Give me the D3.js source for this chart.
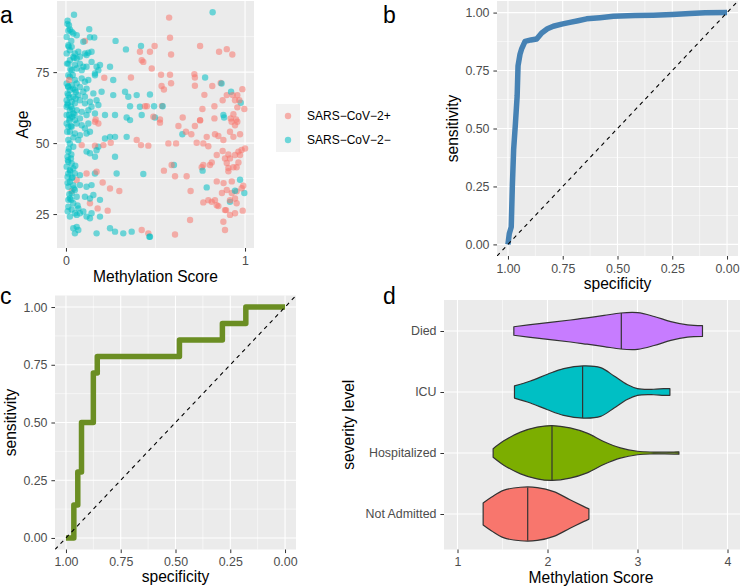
<!DOCTYPE html>
<html><head><meta charset="utf-8">
<script src="https://cdn.jsdelivr.net/npm/d3@7"></script>
<style>
body{margin:0;background:#fff}
svg text{font-family:"Liberation Sans",Arial,Helvetica,sans-serif}
</style>
</head><body>
<svg id="chart" width="740" height="588"></svg>
<script>
// ---------------- DATA ----------------
// Panel a: SARS-CoV-2+ (red) points
const posScore = [.576,.581,.587,.495,.469,.479,.749,.855,.898,.929,.531,.581,.587,.534,.547,.717,.72,.72,.773,.817,.864,.875,.898,.931,.957,.985,.944,.968,.996,.762,.829,.957,.935,.95,.92,.488,.525,.652,.749,.829,
 .106,.017,.214,.363,.413,.423,.432,.441,.452,.536,.166,
 .162,.181,.088,.162,.209,.25,.395,.419,.46,.115,.171,.06,.205,.246,.298,.032,.134,.177,.233,.423,.46,
 .525,.628,.67,.7,.72,.749,.786,.832,.851,.879,.916,.935,.972,.944,.957,.925,.572,.615,.73,.767,.795,.875,.907,.916,.944,.963,.972,.981,.963,.935,.953,.898,.907,.888,.842,.814,.804,.767,.758,.59,.547,.609,.674,.907,.926,.898,.871,.926,.953,.981,.944,.953,.916,.842,.88,.832,.842,.814,.795,.767,.851,.894,.944,.987,.916,.696,.693,.879,.888,.609,.888,1.0,.99];
const posAge = [94.2,87.1,81.2,84.2,82.2,76.3,84.2,82.2,83.1,81.2,74.1,74.1,71.1,70.1,68.9,74.3,73.1,70.2,67,70.1,71.2,65.1,66.9,66.9,66.9,69,65.1,65.1,62,62,63,62.6,60.2,58.3,58.7,59.3,58.3,59,58.1,58.7,
 86,72.2,73,73.1,82.2,79.2,78.6,63,63,63.1,58.3,
 57.5,56.9,49.3,49.1,49.3,50.1,51.1,49.3,49.1,39.3,39.9,37,36.1,34,33.1,33.1,28.8,27,26.2,19.4,18.2,
 57.2,56,54,53.1,56,58,52.2,53.1,52.5,51.1,54,52.2,53.1,56.3,57.5,57.5,49.9,49.9,50.1,49.9,48.9,47.2,46,44.6,45.8,47,45.8,47.6,43.2,41.5,41.5,43,41.2,44.6,45.8,43.2,42.3,42.3,41.5,42.3,40.3,38.3,38.3,40.1,36.5,33.5,32.4,32.4,33,34.1,30.5,28.8,29.9,36.5,35.9,29.9,28.1,29.3,29.9,29.1,27.8,26.4,25.3,26.2,24.7,33.1,22.9,22.3,19.4,17.8,26.4,48.1,35];
// Panel a: SARS-CoV-2- (blue) points
const negScore = [.819,.777,.869,.922,.976,.492,.54,.469,.879,.883,.497,
 .65,.603,.763,.786,.944,.972,.996,.916,.469,
 .277,.335,.419,.264,.246,.19,.33,.348,.395,.358,.413,.423,.339,.274,.218,.358,.264,.199,
 .218,.246,.274,.339,.171,.181,.274,.283,.432,.19,.246,.274,.32,.367,.171,.466,
 .045,.009,.017,.022,.032,.013,.041,.06,.004,.13,.158,.134,.097,.013,.032,.022,.05,.069,.041,.004,.022,.06,.078,.106,.125,.143,.115,.013,.05,.078,.097,.115,.06,.088,.032,.143,.171,.181,.162,.162,.125,.106,.088,.05,.022,.013,.004,.032,.06,.078,.115,.097,.05,.022,.013,.041,.069,.106,.153,.004,.032,.05,.078,.106,.134,.171,.143,.181,.004,.022,.041,.06,.088,.115,.078,.05,.022,.004,.162,.125,.009,.028,.017,.035,.013,.041,.009,.054,
 .004,.032,.06,.088,.125,.106,.022,.05,.078,.115,.134,.022,.041,.013,.115,.134,.162,.013,.032,.004,.022,.041,.013,.05,.078,.162,.022,.013,.041,.078,.115,.143,.05,.032,.022,.06,.106,.134,.153,.041,.013,.069,.097,.115,.134,.143,.06,.078,.19,.041,.06,.069,.05,.009,.028,.009,.032,.013,.032,.05,.022,.013,.069,.013,
 .008,.03,.015,.045,.006,.025,.038,.012,.055,.02,.01,.035,.048,.018,.028,.007,.042,.016,.03,.011,.052,.024,.036,.009,.044,.019,.03,.065,.01];
const negAge = [96.1,73.1,71,68.1,64.2,63,63,67.1,59.9,59,59,
 53.1,42.3,40.3,34.4,33.2,37.1,32.4,29.3,17,
 86,83,84.2,72.2,76.9,77.5,68.1,66.3,66.9,63,62.8,59.9,59,59.9,59.9,58.1,66.9,68.1,
 51.6,52.2,52.2,52.2,47.5,48.7,45.2,39.3,39.1,30,20,18.8,18.2,18.8,18.2,17,
 95.2,93.1,91.5,90,89.2,89.6,88.6,88,87.4,90.1,87.2,87.3,85.7,84.5,83.9,82.7,81.6,82.2,80.4,81.6,79.2,79.8,80.4,81.6,81.8,82.2,81,78,77.5,78,76.9,76.9,76.3,75.7,75.7,78.6,76.9,75.7,74.5,73.9,72.2,71.6,72.8,72.2,73.4,73.9,71,70.4,71,69.8,69.2,68.1,68.7,68.7,66.9,66.3,66.9,66.3,67.5,65.1,64.6,64,65.1,64,64.6,65.1,62.8,63.4,62.8,61.6,60.4,61.6,61,59.9,58.7,58.1,58.7,59.9,60.4,61.6,63.4,62.8,59.9,59.3,69.8,69.2,67.5,65.7,
 56.9,55.8,56.9,56.3,56.9,55.2,54,53.4,52.8,53.4,54,49.9,48.7,47,47,46.4,45.2,43.4,42.8,41.7,40.5,41.1,39.3,39.3,38.7,39.3,36.4,34.6,35.2,35.2,34.6,35.2,33.5,32.3,30.5,31.1,31.1,30.5,31.7,28.8,27.6,27,25.9,24.1,23.5,25.3,24.7,25.3,24.1,20,20.5,19.4,18.2,45.2,44.6,38.1,37.6,30,26.6,25.3,24.1,51.1,51.1,55.8,
 92,86,84,80,78,76,74,70,68,66,64,62,60,58,56,54,52,48,46,44,42,40,38,36,34,32,30,28,26];
const groupLabels = ["SARS\u2212CoV\u22122+", "SARS\u2212CoV\u22122\u2212"];

// Panel b: ROC curve (specificity, sensitivity)
const rocBSpec = [1.000,0.994,0.985,0.980,0.974,0.966,0.958,0.954,0.945,0.937,0.922,0.895,0.869,0.846,0.820,0.793,0.755,0.717,0.680,0.641,0.580,0.519,0.420,0.337,0.250,0.169,0.100,0.000];
const rocBSens = [0.000,0.046,0.075,0.250,0.410,0.520,0.640,0.770,0.820,0.845,0.876,0.882,0.886,0.912,0.930,0.941,0.950,0.958,0.965,0.973,0.978,0.984,0.987,0.989,0.992,0.996,0.999,1.000];

// Panel c: ROC step curve
const rocCSpec = [1.000,0.964,0.964,0.946,0.946,0.929,0.929,0.875,0.875,0.857,0.857,0.482,0.482,0.286,0.286,0.179,0.179,0.000];
const rocCSens = [0.000,0.000,0.143,0.143,0.286,0.286,0.500,0.500,0.714,0.714,0.786,0.786,0.857,0.857,0.929,0.929,1.000,1.000];

const rocTicks = [0, 0.25, 0.5, 0.75, 1];

// Panel d: violins (methylation score vs density)
const severity = ["Died", "ICU", "Hospitalized", "Not Admitted"];
const violinColors = ["#C77CFF", "#00BFC4", "#7CAE00", "#F8766D"];
const diedScore = [1.626,1.885,2.256,2.44,2.63,2.815,3.0,3.185,3.37,3.556,3.722];
const diedDens  = [4.2,7,10.8,13,15.3,17.7,18,14.3,9.2,6,5.3];
const icuScore = [1.633,1.81,2.0,2.18,2.4,2.59,2.74,2.885,3.0,3.18,3.29,3.36];
const icuDens  = [6,10.8,17.5,23,25.7,24,15.7,7.3,3.3,2.7,3.3,3.3];
const hospScore = [1.396,1.51,1.70,1.885,2.05,2.25,2.44,2.63,2.81,3.0,3.18,3.3,3.46];
const hospDens  = [4.2,11.7,20.5,25.5,27,24.7,19.5,11,5,1.7,0.9,0.8,1.2];
const naScore = [1.285,1.38,1.51,1.70,1.885,2.07,2.25,2.40,2.46];
const naDens  = [10.8,16.7,23.3,26.3,26,22,14,7.5,5];
const medians = [2.82, 2.39, 2.05, 1.78];
const dTicks = [1, 2, 3, 4];

// ---------------- DRAWING ----------------
const svg = d3.select("#chart");
const BG = "#EBEBEB", TICKC = "#4D4D4D", TICKFS = "12.4px", TITLEFS = "15.6px";
let clipId = 0;

function panelBg(x0, y0, x1, y1) {
  svg.append("rect").attr("x", x0).attr("y", y0).attr("width", x1 - x0).attr("height", y1 - y0).attr("fill", BG);
  const id = "clip" + (clipId++);
  svg.append("clipPath").attr("id", id).append("rect").attr("x", x0).attr("y", y0).attr("width", x1 - x0).attr("height", y1 - y0);
  return svg.append("g").attr("clip-path", `url(#${id})`);
}
function grid(g, xs, ys, xMajor, xMinor, yMajor, yMinor) {
  const xr = d3.extent(xs.range()), yr = d3.extent(ys.range());
  xMinor.forEach(v => g.append("line").attr("x1", xs(v)).attr("x2", xs(v)).attr("y1", yr[0] - 20).attr("y2", yr[1] + 40).attr("stroke", "#fff").attr("stroke-width", 0.55));
  yMinor.forEach(v => g.append("line").attr("y1", ys(v)).attr("y2", ys(v)).attr("x1", xr[0] - 20).attr("x2", xr[1] + 40).attr("stroke", "#fff").attr("stroke-width", 0.55));
  xMajor.forEach(v => g.append("line").attr("x1", xs(v)).attr("x2", xs(v)).attr("y1", yr[0] - 20).attr("y2", yr[1] + 40).attr("stroke", "#fff").attr("stroke-width", 1.1));
  yMajor.forEach(v => g.append("line").attr("y1", ys(v)).attr("y2", ys(v)).attr("x1", xr[0] - 20).attr("x2", xr[1] + 40).attr("stroke", "#fff").attr("stroke-width", 1.1));
}
function styleAxis(sel) {
  sel.attr("font-family", null).attr("font-size", null);
  sel.select(".domain").remove();
  sel.selectAll(".tick line").attr("stroke", "#333333").attr("stroke-width", 1);
  sel.selectAll(".tick text").attr("fill", TICKC).style("font-size", TICKFS);
}
function axes(xs, ys, bottomY, leftX, xVals, xFmt, yVals, yFmt) {
  const ax = svg.append("g").attr("transform", `translate(0,${bottomY})`)
    .call(d3.axisBottom(xs).tickValues(xVals).tickFormat(xFmt).tickSize(3.6).tickPadding(4.2));
  styleAxis(ax);
  const ay = svg.append("g").attr("transform", `translate(${leftX},0)`)
    .call(d3.axisLeft(ys).tickValues(yVals).tickFormat(yFmt).tickSize(3.6).tickPadding(3.9));
  styleAxis(ay);
}
function xTitle(text, cx, y) {
  svg.append("text").attr("x", cx).attr("y", y).attr("text-anchor", "middle").style("font-size", TITLEFS).attr("fill", "#000").text(text);
}
function yTitle(text, x, cy) {
  svg.append("text").attr("transform", `translate(${x},${cy}) rotate(-90)`).attr("text-anchor", "middle").style("font-size", TITLEFS).attr("fill", "#000").text(text);
}
function tag(text, x, y) {
  svg.append("text").attr("x", x).attr("y", y).style("font-size", "23px").attr("fill", "#000").text(text);
}

// ----- Panel a -----
{
  const allAge = posAge.concat(negAge);
  const [amin, amax] = d3.extent(allAge);
  const pad = (amax - amin) * 0.05;
  const xs = d3.scaleLinear().domain([-0.05, 1.05]).range([57, 254]);
  const ys = d3.scaleLinear().domain([amin - pad, amax + pad]).range([248, 1]);
  const g = panelBg(57, 1, 254, 248);
  grid(g, xs, ys, [0, 1], [0.5], [25, 50, 75], [37.5, 62.5, 87.5]);
  const pts = [];
  negScore.forEach((s, i) => pts.push({s, a: negAge[i], c: "#00BFC4"}));
  posScore.forEach((s, i) => pts.push({s, a: posAge[i], c: "#F8766D"}));
  pts.sort((p, q) => (p.s * 997 + p.a * 13) % 7 - (q.s * 997 + q.a * 13) % 7);
  g.selectAll("circle.pt").data(pts).enter().append("circle")
    .attr("cx", d => xs(d.s)).attr("cy", d => ys(d.a)).attr("r", 3.2)
    .attr("fill", d => d.c).attr("fill-opacity", 0.55);
  axes(xs, ys, 248, 57, [0, 1], d3.format("d"), [25, 50, 75], d3.format("d"));
  xTitle("Methylation Score", (57 + 254) / 2, 282);
  yTitle("Age", 28, (1 + 248) / 2);
  // legend
  const lg = svg.append("g");
  const ly = d3.scalePoint().domain(groupLabels).range([116, 140]);
  const lc = d3.scaleOrdinal().domain(groupLabels).range(["#F8766D", "#00BFC4"]);
  groupLabels.forEach(lbl => {
    lg.append("rect").attr("x", 276).attr("y", ly(lbl) - 12).attr("width", 24).attr("height", 24).attr("fill", "#F2F2F2");
    lg.append("circle").attr("cx", 288).attr("cy", ly(lbl)).attr("r", 3.2).attr("fill", lc(lbl)).attr("fill-opacity", 0.55);
    lg.append("text").attr("x", 307).attr("y", ly(lbl)).attr("dy", "0.35em").style("font-size", "12px").attr("fill", "#000").text(lbl);
  });
  tag("a", 0, 23);
}

// ----- ROC panel helper -----
function rocPanel(x0, y0, x1, y1, spec, sens, color) {
  const xs = d3.scaleLinear().domain([1.05, -0.05]).range([x0, x1]);
  const ys = d3.scaleLinear().domain([-0.05, 1.05]).range([y1, y0]);
  const g = panelBg(x0, y0, x1, y1);
  grid(g, xs, ys, rocTicks, [0.125, 0.375, 0.625, 0.875], rocTicks, [0.125, 0.375, 0.625, 0.875]);
  const line = d3.line().x(d => xs(d[0])).y(d => ys(d[1]));
  g.append("path").datum(spec.map((s, i) => [s, sens[i]])).attr("d", line)
    .attr("fill", "none").attr("stroke", color).attr("stroke-width", 5.5).attr("stroke-linejoin", "round");
  g.append("line").attr("x1", xs(1.05)).attr("y1", ys(-0.05)).attr("x2", xs(-0.05)).attr("y2", ys(1.05))
    .attr("stroke", "#000").attr("stroke-width", 1.1).attr("stroke-dasharray", "4,4");
  axes(xs, ys, y1, x0, rocTicks, d3.format(".2f"), rocTicks, d3.format(".2f"));
  xTitle("specificity", (x0 + x1) / 2, y1 + 32.5);
  yTitle("sensitivity", x0 - 39.5, (y0 + y1) / 2);
}
rocPanel(497, 1, 738, 256, rocBSpec, rocBSens, "#4682B4");
tag("b", 383, 23);
rocPanel(55, 295.5, 296, 549.5, rocCSpec, rocCSens, "#6B8E23");
tag("c", 0, 304);

// ----- Panel d -----
{
  const x0 = 444, x1 = 741, y0 = 300, y1 = 549.5;
  const xs = d3.scaleLinear().domain([0.85, 4.15]).range([x0, x1]);
  const ys = d3.scalePoint().domain(severity).range([331, 514]);
  const g = panelBg(x0, y0, x1, y1);
  grid(g, xs, {range: () => [y0, y1]}, dTicks, [1.5, 2.5, 3.5], [], []);
  severity.forEach(s => g.append("line").attr("x1", x0).attr("x2", x1).attr("y1", ys(s)).attr("y2", ys(s)).attr("stroke", "#fff").attr("stroke-width", 1.1));
  const scores = [diedScore, icuScore, hospScore, naScore];
  const dens = [diedDens, icuDens, hospDens, naDens];
  const maxD = d3.max(dens.flat());
  const ws = d3.scaleLinear().domain([0, maxD]).range([0, 0.45 * ys.step()]);
  severity.forEach((s, k) => {
    const yc = ys(s);
    const data = scores[k].map((v, i) => [v, dens[k][i]]);
    const area = d3.area().curve(d3.curveCatmullRom.alpha(0.5))
      .x(d => xs(d[0])).y0(d => yc - ws(d[1])).y1(d => yc + ws(d[1]));
    g.append("path").datum(data).attr("d", area).attr("fill", violinColors[k])
      .attr("stroke", "#333333").attr("stroke-width", 1.2).attr("stroke-linejoin", "round");
    const m = medians[k];
    const interp = d3.scaleLinear().domain(scores[k]).range(dens[k]);
    const hw = ws(interp(m));
    g.append("line").attr("x1", xs(m)).attr("x2", xs(m)).attr("y1", yc - hw).attr("y2", yc + hw)
      .attr("stroke", "#333333").attr("stroke-width", 1.2);
  });
  const ax = svg.append("g").attr("transform", `translate(0,${y1})`)
    .call(d3.axisBottom(xs).tickValues(dTicks).tickFormat(d3.format("d")).tickSize(3.6).tickPadding(4.2));
  styleAxis(ax);
  const ay = svg.append("g").attr("transform", `translate(${x0},0)`)
    .call(d3.axisLeft(ys).tickSize(3.6).tickPadding(3.9));
  styleAxis(ay);
  xTitle("Methylation Score", (x0 + 738) / 2, y1 + 33);
  yTitle("severity level", 354, (y0 + y1) / 2);
  tag("d", 383, 304);
}
</script>
</body></html>
